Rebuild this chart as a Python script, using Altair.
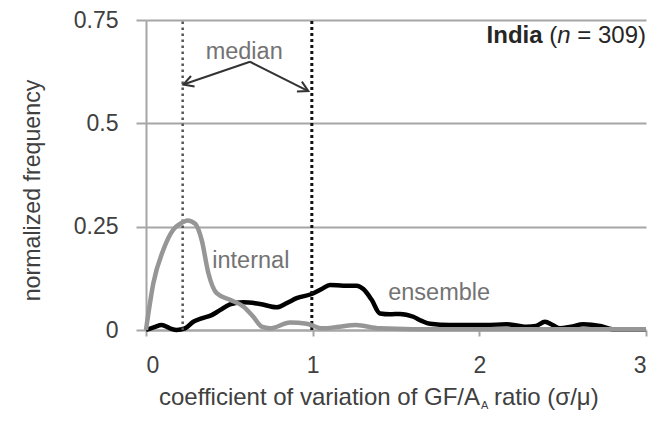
import math
import altair as alt
import pandas as pd

# ---- data ----
ens_x = [0, 0.05, 0.094, 0.144, 0.184, 0.234, 0.284, 0.334, 0.394, 0.444, 0.504, 0.584, 0.684,
         0.784, 0.844, 0.904, 0.994, 1.054, 1.104, 1.184, 1.264, 1.304, 1.354, 1.404, 1.464,
         1.524, 1.604, 1.654, 1.704, 1.824, 1.94, 2.04, 2.164, 2.284, 2.34, 2.394, 2.44, 2.484,
         2.55, 2.624, 2.724, 2.80, 2.9, 3.0]
ens_y = [0, 0.007, 0.012, 0.004, 0.0, 0.004, 0.020, 0.028, 0.036, 0.048, 0.062, 0.067, 0.063,
         0.055, 0.065, 0.077, 0.087, 0.099, 0.109, 0.107, 0.107, 0.099, 0.073, 0.040, 0.038,
         0.039, 0.032, 0.022, 0.015, 0.012, 0.012, 0.012, 0.014, 0.008, 0.010, 0.020, 0.012,
         0.004, 0.008, 0.014, 0.010, 0.002, 0.002, 0.002]

int_x = [0, 0.044, 0.104, 0.164, 0.205, 0.25, 0.295, 0.334, 0.374, 0.424, 0.504, 0.584, 0.644,
         0.694, 0.744, 0.864, 0.964, 1.06, 1.16, 1.26, 1.40, 1.6, 2.0, 2.5, 3.0]
int_y = [0, 0.113, 0.194, 0.243, 0.257, 0.265, 0.257, 0.218, 0.138, 0.089, 0.073, 0.057, 0.032,
         0.008, 0.004, 0.018, 0.015, 0.004, 0.008, 0.012, 0.004, 0.002, 0.002, 0.002, 0.002]

median_internal = 0.22
median_ensemble = 0.995

x_ticks = [0, 1, 2, 3]
y_ticks = [0, 0.25, 0.5, 0.75]

# annotation anchors (data coordinates)
arrow_apex = (0.624, 0.649)
arrow_tips = [(0.224, 0.594), (0.974, 0.578)]
label_median = (0.589, 0.655)
label_internal = (0.629, 0.150)
label_ensemble = (1.759, 0.073)
title_pos = (3.0, 0.695)
xtitle_split = 2.004
xtitle_y = -0.182

W, H = 500, 310
XD, YD = [0, 3], [0, 0.75]
xs = alt.Scale(domain=XD, nice=False, zero=False)
ys = alt.Scale(domain=YD, nice=False, zero=False)

GRAY = "#a6a6a6"
FONT = "Liberation Sans"
TXT = "#404040"

x_axis = alt.Axis(values=x_ticks, format="d", grid=False, title=None,
                  domainColor=GRAY, domainWidth=2, tickColor=GRAY, tickWidth=2,
                  tickSize=6, labelFont=FONT, labelFontSize=23,
                  labelColor=TXT, labelPadding=18)
y_axis = alt.Axis(values=y_ticks, format=".2~f", grid=True, gridColor=GRAY,
                  gridWidth=2, domainColor=GRAY, domainWidth=2, tickColor=GRAY,
                  tickWidth=2, tickSize=10, labelFont=FONT, labelFontSize=23,
                  labelColor=TXT, labelPadding=18,
                  title="normalized frequency", titleFont=FONT,
                  titleFontSize=23.2, titleFontWeight="normal",
                  titleColor=TXT, titleX=-114, titleY=170,
                  titleAlign="center", titleBaseline="middle")


def X(field):
    return alt.X(field, scale=xs, axis=x_axis)


def Y(field):
    return alt.Y(field, scale=ys, axis=y_axis)


ens = pd.DataFrame({"x": ens_x, "y": ens_y})
intl = pd.DataFrame({"x": int_x, "y": int_y})

ens_line = alt.Chart(ens).mark_line(color="#000000", strokeWidth=4.5, interpolate="monotone").encode(
    x=X("x:Q"), y=Y("y:Q"))
int_line = alt.Chart(intl).mark_line(color="#969696", strokeWidth=4.5, interpolate="monotone").encode(
    x=X("x:Q"), y=Y("y:Q"))

med_df1 = pd.DataFrame({"x": [median_internal], "y": [YD[0]], "y2": [YD[1]]})
med_df2 = pd.DataFrame({"x": [median_ensemble], "y": [YD[0]], "y2": [YD[1]]})
med1 = alt.Chart(med_df1).mark_rule(color="#555555", strokeWidth=2.5, strokeDash=[2.5, 3.5]).encode(
    x=X("x:Q"), y=Y("y:Q"), y2="y2:Q")
med2 = alt.Chart(med_df2).mark_rule(color="#111111", strokeWidth=3, strokeDash=[3, 3]).encode(
    x=X("x:Q"), y=Y("y:Q"), y2="y2:Q")

# arrows
px_x = W / (XD[1] - XD[0])
px_y = H / (YD[1] - YD[0])
arr_rows = []
for tx, ty in arrow_tips:
    ang = math.degrees(math.atan2(-(ty - arrow_apex[1]) * px_y, (tx - arrow_apex[0]) * px_x)) % 360
    arr_rows.append({"x": arrow_apex[0], "y": arrow_apex[1], "x2": tx, "y2": ty, "ang": ang})
arr_df = pd.DataFrame(arr_rows)
arrows = alt.Chart(arr_df).mark_rule(color="#333333", strokeWidth=2).encode(
    x=X("x:Q"), y=Y("y:Q"), x2="x2:Q", y2="y2:Q")
heads = alt.Chart(arr_df).mark_point(shape="M -1 -0.55 L 0 0 L -1 0.55", size=400, filled=False,
                                     stroke="#333333", strokeWidth=2, opacity=1).encode(
    x=X("x2:Q"), y=Y("y2:Q"), angle=alt.Angle("ang:Q", scale=None))


def text_layer(df, **kw):
    return alt.Chart(df).mark_text(**kw).encode(x=X("x:Q"), y=Y("y:Q"), text="t:N")


ann_df = pd.DataFrame({"x": [label_median[0], label_internal[0], label_ensemble[0]],
                       "y": [label_median[1], label_internal[1], label_ensemble[1]],
                       "t": ["median", "internal", "ensemble"]})
ann = text_layer(ann_df, font=FONT, fontSize=23.5, color="#737373", align="center", baseline="alphabetic")

tp = pd.DataFrame({"x": [title_pos[0]], "y": [title_pos[1]]})
t1 = text_layer(tp.assign(t="India"), font=FONT, fontSize=24, fontWeight="bold", color="#262626",
                align="right", baseline="alphabetic", dx=-103.4)
t2 = text_layer(tp.assign(t="("), font=FONT, fontSize=24, color="#262626",
                align="right", baseline="alphabetic", dx=-88.7)
t3 = text_layer(tp.assign(t="n"), font=FONT, fontSize=24, fontStyle="italic", color="#262626",
                align="right", baseline="alphabetic", dx=-75.4)
t4 = text_layer(tp.assign(t="= 309)"), font=FONT, fontSize=24, color="#262626",
                align="right", baseline="alphabetic")

xt = pd.DataFrame({"x": [xtitle_split], "y": [xtitle_y]})
xt1 = text_layer(xt.assign(t="coefficient of variation of GF/A"), font=FONT, fontSize=24,
                 color=TXT, align="right", baseline="alphabetic")
xt2 = text_layer(xt.assign(t="A"), font=FONT, fontSize=11, color=TXT,
                 align="left", baseline="alphabetic", dx=1, dy=3.5)
xt3 = text_layer(xt.assign(t="ratio (σ/μ)"), font=FONT, fontSize=24,
                 color=TXT, align="left", baseline="alphabetic", dx=14)

chart = alt.layer(ens_line, med1, med2, int_line, arrows, heads, ann, t1, t2, t3, t4, xt1, xt2, xt3).properties(
    width=W, height=H,
    padding={"left": 138, "top": 12, "right": 14, "bottom": 83},
    autosize=alt.AutoSizeParams(type="none"),
    background="white",
).configure_view(stroke=None)

chart.save("out.html", embed_options={"renderer": "svg", "actions": False})
